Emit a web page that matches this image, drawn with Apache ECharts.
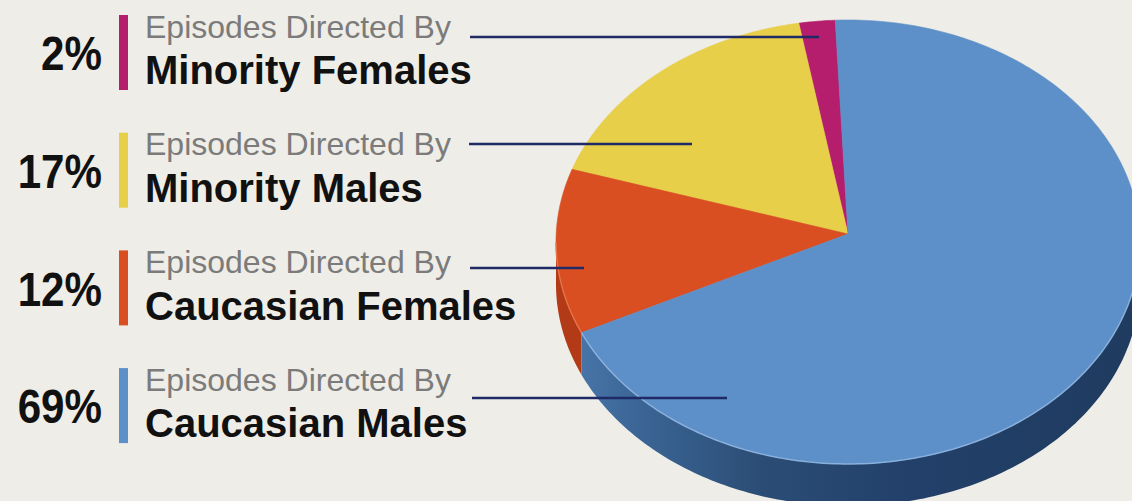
<!DOCTYPE html>
<html><head><meta charset="utf-8">
<script src="https://cdn.jsdelivr.net/npm/echarts@6/dist/echarts.min.js"></script>
<style>html,body{margin:0;padding:0;background:#eeede7;}#c{width:1132px;height:501px;}</style>
</head><body><div id="c"></div>
<script>
// ---- data ----
const categories = ['Minority Females', 'Minority Males', 'Caucasian Females', 'Caucasian Males'];
const shares = [2, 17, 12, 69];
const pctLabels = ['2%', '17%', '12%', '69%'];
const prefixLabel = 'Episodes Directed By';
const colors = ['#b51e6d', '#e8cf49', '#d94f22', '#5d8fc8'];

// ---- layout ----
const PIE = { cx: 848, cy: 242, rx: 292, ry: 222, depth: 42, apexX: 848, apexY: 234, startDeg: -92.5 };
const LEGEND = { barX: 119, barW: 9, barH: 75, top0: 15, step: 117.7, textX: 145, pctRight: 102 };
const LEADERS = [{ y: 37, x1: 470, x2: 819 }, { y: 144, x1: 469, x2: 692 }, { y: 268, x1: 470, x2: 584 }, { y: 398, x1: 472, x2: 727 }];

const total = shares.reduce((a, b) => a + b, 0);
const start = PIE.startDeg * Math.PI / 180;
function sliceRange(i) {
  let before = 0;
  for (let k = 0; k < i; k++) before += shares[k];
  const a1 = start - before / total * 2 * Math.PI;
  const a0 = start - (before + shares[i]) / total * 2 * Math.PI;
  return [a0, a1];
}
function arcPts(a, b, dy) {
  const n = Math.max(2, Math.ceil((b - a) / (Math.PI / 180)));
  const pts = [];
  for (let j = 0; j <= n; j++) {
    const t = a + (b - a) * j / n;
    pts.push([PIE.cx + PIE.rx * Math.cos(t), PIE.cy + PIE.ry * Math.sin(t) + dy]);
  }
  return pts;
}
function frontParts(a, b) {
  const out = [];
  for (let k = -3; k <= 3; k++) {
    const lo = Math.max(a, k * 2 * Math.PI), hi = Math.min(b, k * 2 * Math.PI + Math.PI);
    if (hi > lo) out.push([lo, hi]);
  }
  return out;
}
const sideFills = [
  '#8a1552', '#b59c2c', '#b23a16',
  { type: 'linear', x: 556, y: 0, x2: 1140, y2: 0, global: true,
    colorStops: [{ offset: 0, color: '#4d7bb0' }, { offset: 0.12, color: '#3d6899' }, { offset: 0.35, color: '#2b4d75' }, { offset: 0.6, color: '#22406a' }, { offset: 1, color: '#1f3b5f' }] }
];
const rimColors = ['#d65a98', '#f5e27e', '#e9794f', '#93b8e2'];

const seriesData = shares.map((v, i) => ({ value: v, name: categories[i] }));

const graphics = [];
categories.forEach((cat, i) => {
  const top = LEGEND.top0 + i * LEGEND.step;
  graphics.push({ type: 'rect', shape: { x: LEGEND.barX, y: top, width: LEGEND.barW, height: LEGEND.barH }, style: { fill: colors[i] }, z: 5 });
  graphics.push({ type: 'text', x: LEGEND.pctRight, y: top + 56 - 17.5, scaleX: 0.86, style: { text: pctLabels[i], fill: '#111', font: 'bold 49px "Liberation Sans", Arial, sans-serif', align: 'right', verticalAlign: 'middle' }, z: 5 });
  graphics.push({ type: 'text', x: LEGEND.textX, y: top + 23 - 11.5, style: { text: prefixLabel, fill: '#7b7b7b', font: '32px "Liberation Sans", Arial, sans-serif', align: 'left', verticalAlign: 'middle' }, z: 5 });
  graphics.push({ type: 'text', x: LEGEND.textX, y: top + 69.5 - 14.4, style: { text: cat, fill: '#111', font: 'bold 40px "Liberation Sans", Arial, sans-serif', align: 'left', verticalAlign: 'middle' }, z: 5 });
  const L = LEADERS[i];
  graphics.push({ type: 'line', shape: { x1: L.x1, y1: L.y, x2: L.x2, y2: L.y }, style: { stroke: '#1f2a66', lineWidth: 2.5 }, z: 20 });
});

const chart = echarts.init(document.getElementById('c'), null, { renderer: 'svg' });
chart.setOption({
  backgroundColor: '#eeede7',
  animation: false,
  series: [
    {
      type: 'custom', coordinateSystem: 'none', z: 1, silent: true,
      data: seriesData,
      renderItem: function (params) {
        const i = params.dataIndex;
        const [a0, a1] = sliceRange(i);
        const children = frontParts(a0, a1).map(([lo, hi]) => {
          const topArc = arcPts(lo, hi, 0);
          const botArc = arcPts(lo, hi, PIE.depth).reverse();
          return { type: 'polygon', shape: { points: topArc.concat(botArc) }, style: { fill: sideFills[i], stroke: null } };
        });
        return { type: 'group', children: children };
      }
    },
    {
      type: 'custom', coordinateSystem: 'none', z: 2, silent: true,
      data: seriesData,
      renderItem: function (params) {
        const i = params.dataIndex;
        const [a0, a1] = sliceRange(i);
        const pts = [[PIE.apexX, PIE.apexY]].concat(arcPts(a0, a1, 0));
        const children = [{ type: 'polygon', shape: { points: pts }, style: { fill: colors[i], stroke: colors[i], lineWidth: 0.6 } }];
        frontParts(a0, a1).forEach(([lo, hi]) => {
          children.push({ type: 'polyline', shape: { points: arcPts(lo, hi, 0) }, style: { fill: null, stroke: rimColors[i], lineWidth: 1.5, opacity: 0.8 } });
        });
        return { type: 'group', children: children };
      }
    }
  ],
  graphic: graphics
});
</script></body></html>
